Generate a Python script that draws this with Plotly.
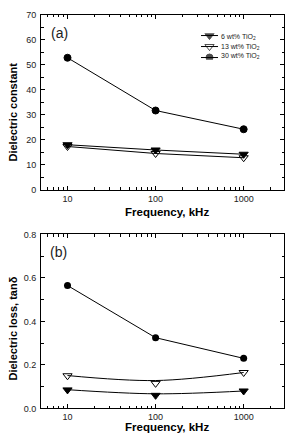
import plotly.graph_objects as go

freq = [10, 100, 1000]
series_names = ["6 wt% TiO<sub>2</sub>", "13 wt% TiO<sub>2</sub>", "30 wt% TiO<sub>2</sub>"]

# (a) dielectric constant
eps_6 = [18.0, 15.9, 14.2]
eps_13 = [17.3, 14.5, 12.8]
eps_30 = [52.8, 31.7, 24.2]

# (b) dielectric loss tan delta (markers)
tan_6 = [0.085, 0.060, 0.080]
tan_13 = [0.150, 0.115, 0.165]
tan_30 = [0.565, 0.325, 0.230]
# smooth guide curves drawn through (b) low-loss series
tan_6_fit = [0.086, 0.067, 0.080]
tan_13_fit = [0.151, 0.128, 0.165]

FONT = "Liberation Sans, Arial, sans-serif"
W, H = 288, 443

fig = go.Figure()

sym = ["triangle-down", "triangle-down-open", "circle"]
msize = [8, 8, 7]

for name, ys, s, ms in zip(series_names, [eps_6, eps_13, eps_30], sym, msize):
    fig.add_trace(go.Scatter(
        x=freq, y=ys, mode="lines+markers", name=name,
        line=dict(color="black", width=1),
        marker=dict(symbol=s, size=ms, color="black", line=dict(color="black", width=1)),
        xaxis="x", yaxis="y", showlegend=False))

# bottom panel
for ys in [tan_6_fit, tan_13_fit]:
    fig.add_trace(go.Scatter(x=freq, y=ys, mode="lines", line=dict(color="black", width=1, shape="spline"),
                             xaxis="x2", yaxis="y2", showlegend=False))
for ys, s, ms in zip([tan_6, tan_13], sym[:2], msize[:2]):
    fig.add_trace(go.Scatter(x=freq, y=ys, mode="markers",
                             marker=dict(symbol=s, size=ms, color="black", line=dict(color="black", width=1)),
                             xaxis="x2", yaxis="y2", showlegend=False))
fig.add_trace(go.Scatter(x=freq, y=tan_30, mode="lines+markers",
                         line=dict(color="black", width=1),
                         marker=dict(symbol="circle", size=7, color="black"),
                         xaxis="x2", yaxis="y2", showlegend=False))

# compact legend key (on a hidden overlay axis with unit ranges)
leg_rows = [0, 1, 2]
for r, s, ms in zip(leg_rows, sym, msize):
    fig.add_trace(go.Scatter(x=[0, 0.5, 1], y=[2 - r] * 3, mode="lines+markers",
                             line=dict(color="black", width=1),
                             marker=dict(symbol=s, size=[0, ms, 0], color="black",
                                         line=dict(color="black", width=1)),
                             xaxis="x3", yaxis="y3", showlegend=False, hoverinfo="skip"))

xdom = [41 / W, 284 / W]
ydom_a = [1 - 189 / H, 1 - 10 / H]
ydom_b = [1 - 412.7 / H, 1 - 234.7 / H]

minor_x = [5, 6, 7, 8, 9, 20, 30, 40, 50, 60, 70, 80, 90,
           200, 300, 400, 500, 600, 700, 800, 900, 2000]

def xaxis(dom_anchor):
    return dict(type="log", domain=xdom, anchor=dom_anchor, range=[0.699, 3.458],
                tickvals=[10, 100, 1000], ticktext=["10", "100", "1000"],
                ticks="inside", ticklen=4, tickwidth=1, tickcolor="black",
                minor=dict(tickvals=minor_x, ticks="inside", ticklen=2.5, tickwidth=1, tickcolor="black"),
                showline=True, linecolor="black", linewidth=1, mirror="ticks",
                showgrid=False, zeroline=False,
                tickfont=dict(family=FONT, size=9, color="#222"))

annotations = [
    dict(text="(a)", x=49 / W, y=1 - 29 / H, xref="paper", yref="paper", xanchor="left",
         yanchor="middle", showarrow=False, font=dict(family=FONT, size=14, color="#222")),
    dict(text="(b)", x=48 / W, y=1 - 253 / H, xref="paper", yref="paper", xanchor="left",
         yanchor="middle", showarrow=False, font=dict(family=FONT, size=14, color="#222")),
    dict(text="<b>Frequency, kHz</b>", x=167 / W, y=1 - 212 / H, xref="paper", yref="paper",
         xanchor="center", yanchor="middle", showarrow=False, font=dict(family=FONT, size=11.5)),
    dict(text="<b>Frequency, kHz</b>", x=167 / W, y=1 - 432 / H, xref="paper", yref="paper",
         xanchor="center", yanchor="middle", showarrow=False, font=dict(family=FONT, size=11.5)),
    dict(text="<b>Dielectric constant</b>", x=13 / W, y=1 - 110 / H, xref="paper", yref="paper",
         xanchor="center", yanchor="middle", textangle=-90, showarrow=False,
         font=dict(family=FONT, size=11)),
    dict(text="<b>Dielectric loss, tanδ</b>", x=13 / W, y=1 - 331 / H, xref="paper", yref="paper",
         xanchor="center", yanchor="middle", textangle=-90, showarrow=False,
         font=dict(family=FONT, size=11)),
]
leg_y = [33, 42.5, 52]
for ypx, name in zip(leg_y, series_names):
    annotations.append(dict(text=name, x=219 / W, y=1 - ypx / H, xref="paper", yref="paper",
                            xanchor="left", yanchor="middle", showarrow=False,
                            font=dict(family=FONT, size=7, color="#222")))

fig.update_layout(
    width=W, height=H, margin=dict(l=0, r=0, t=0, b=0),
    paper_bgcolor="white", plot_bgcolor="white",
    font=dict(family=FONT, color="black"),
    xaxis=xaxis("y"),
    xaxis2=xaxis("y2"),
    yaxis=dict(domain=ydom_a, anchor="x", range=[0, 70], tickvals=[0, 10, 20, 30, 40, 50, 60, 70],
               ticks="inside", ticklen=4, tickcolor="black",
               minor=dict(dtick=5, ticks="inside", ticklen=2.5, tickcolor="black"),
               showline=True, linecolor="black", linewidth=1, mirror="ticks",
               showgrid=False, zeroline=False, ticklabelstandoff=2,
               tickfont=dict(family=FONT, size=9, color="#222")),
    yaxis2=dict(domain=ydom_b, anchor="x2", range=[0, 0.8], tickvals=[0, 0.2, 0.4, 0.6, 0.8],
                ticktext=["0.0", "0.2", "0.4", "0.6", "0.8"],
                ticks="inside", ticklen=4, tickcolor="black",
                minor=dict(dtick=0.1, ticks="inside", ticklen=2.5, tickcolor="black"),
                showline=True, linecolor="black", linewidth=1, mirror="ticks",
                showgrid=False, zeroline=False, ticklabelstandoff=2,
                tickfont=dict(family=FONT, size=9, color="#222")),
    xaxis3=dict(domain=[201 / W, 218 / W], range=[0, 1], anchor="y3", visible=False, fixedrange=True),
    yaxis3=dict(domain=[1 - 56 / H, 1 - 29 / H], range=[-0.2, 2.2], anchor="x3", visible=False,
                fixedrange=True),
    annotations=annotations,
)

fig.write_html("out.html")
